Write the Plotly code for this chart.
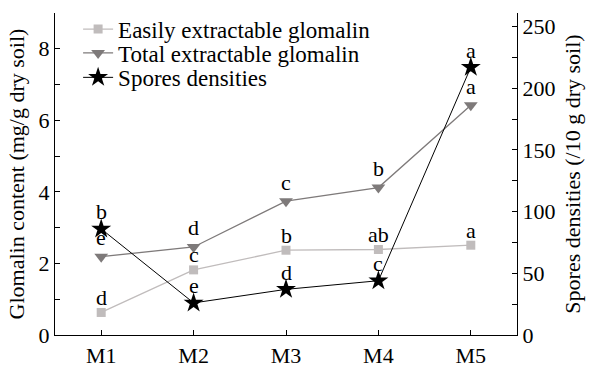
import plotly.graph_objects as go

categories = ["M1", "M2", "M3", "M4", "M5"]
easily = [0.63, 1.82, 2.37, 2.39, 2.51]
total = [2.19, 2.46, 3.74, 4.12, 6.42]
spores = [86, 26, 37, 44, 217]
easily_letters = ["d", "c", "b", "ab", "a"]
total_letters = ["e", "d", "c", "b", "a"]
spores_letters = ["b", "e", "d", "c", "a"]

FONT = "Liberation Serif, Times New Roman, serif"
FS = 22
LFS = 23
xs = [1, 2, 3, 4, 5]

fig = go.Figure()
fig.add_trace(go.Scatter(x=xs, y=easily, name="Easily extractable glomalin",
                         mode="lines+markers", legend="legend",
                         line=dict(color="#c0bcbc", width=1.3),
                         marker=dict(symbol="square", size=9, color="#c0bcbc")))
fig.add_trace(go.Scatter(x=xs, y=total, name="Total extractable glomalin",
                         mode="lines+markers", legend="legend2",
                         line=dict(color="#7e7a7a", width=1.3),
                         marker=dict(symbol="triangle-down", size=12, color="#7e7a7a")))
fig.add_trace(go.Scatter(x=xs, y=spores, name="Spores densities", yaxis="y2",
                         mode="lines+markers", legend="legend3",
                         line=dict(color="#000000", width=1),
                         marker=dict(symbol="star", size=15, color="#000000")))

anns = []
for x, v, t in zip(xs, easily, easily_letters):
    anns.append(dict(x=x, y=v, xref="x", yref="y", text=t, showarrow=False,
                     yshift=15, font=dict(family=FONT, size=FS, color="black")))
for x, v, t in zip(xs, total, total_letters):
    anns.append(dict(x=x, y=v, xref="x", yref="y", text=t, showarrow=False,
                     yshift=19, font=dict(family=FONT, size=FS, color="black")))
for x, v, t in zip(xs, spores, spores_letters):
    anns.append(dict(x=x, y=v, xref="x", yref="y2", text=t, showarrow=False,
                     yshift=17, font=dict(family=FONT, size=FS, color="black")))

axis_common = dict(showline=True, linecolor="black", linewidth=1.2,
                   ticks="inside", ticklen=5, tickcolor="black", tickwidth=1.2,
                   showgrid=False, zeroline=False,
                   tickfont=dict(family=FONT, size=FS, color="black"))

def leg(yc):
    return dict(x=0.05, y=yc, xanchor="left", yanchor="middle",
                bgcolor="rgba(0,0,0,0)", font=dict(family=FONT, size=LFS),
                itemwidth=30)

fig.update_layout(
    width=590, height=376,
    margin=dict(l=55, r=73, t=8, b=31),
    paper_bgcolor="white", plot_bgcolor="white",
    font=dict(family=FONT, size=FS, color="black"),
    showlegend=True,
    legend=leg(0.95), legend2=leg(0.876), legend3=leg(0.80),
    annotations=anns,
    xaxis=dict(range=[0.5, 5.5], tickvals=xs, ticktext=categories, **axis_common),
    yaxis=dict(range=[0, 9], tickvals=[0, 2, 4, 6, 8],
               minor=dict(tickvals=[1, 3, 5, 7], ticks="inside", ticklen=5,
                          tickcolor="black", tickwidth=1.2),
               title=dict(text="Glomalin content (mg/g dry soil)",
                          font=dict(family=FONT, size=FS), standoff=7),
               **axis_common),
    yaxis2=dict(range=[0, 261], overlaying="y", side="right",
                tickvals=[0, 50, 100, 150, 200, 250],
                minor=dict(tickvals=[25, 75, 125, 175, 225], ticks="inside", ticklen=5,
                           tickcolor="black", tickwidth=1.2),
                title=dict(text="Spores densities (/10 g dry soil)",
                           font=dict(family=FONT, size=FS), standoff=10),
                **axis_common),
)

fig.write_html("out.html")
